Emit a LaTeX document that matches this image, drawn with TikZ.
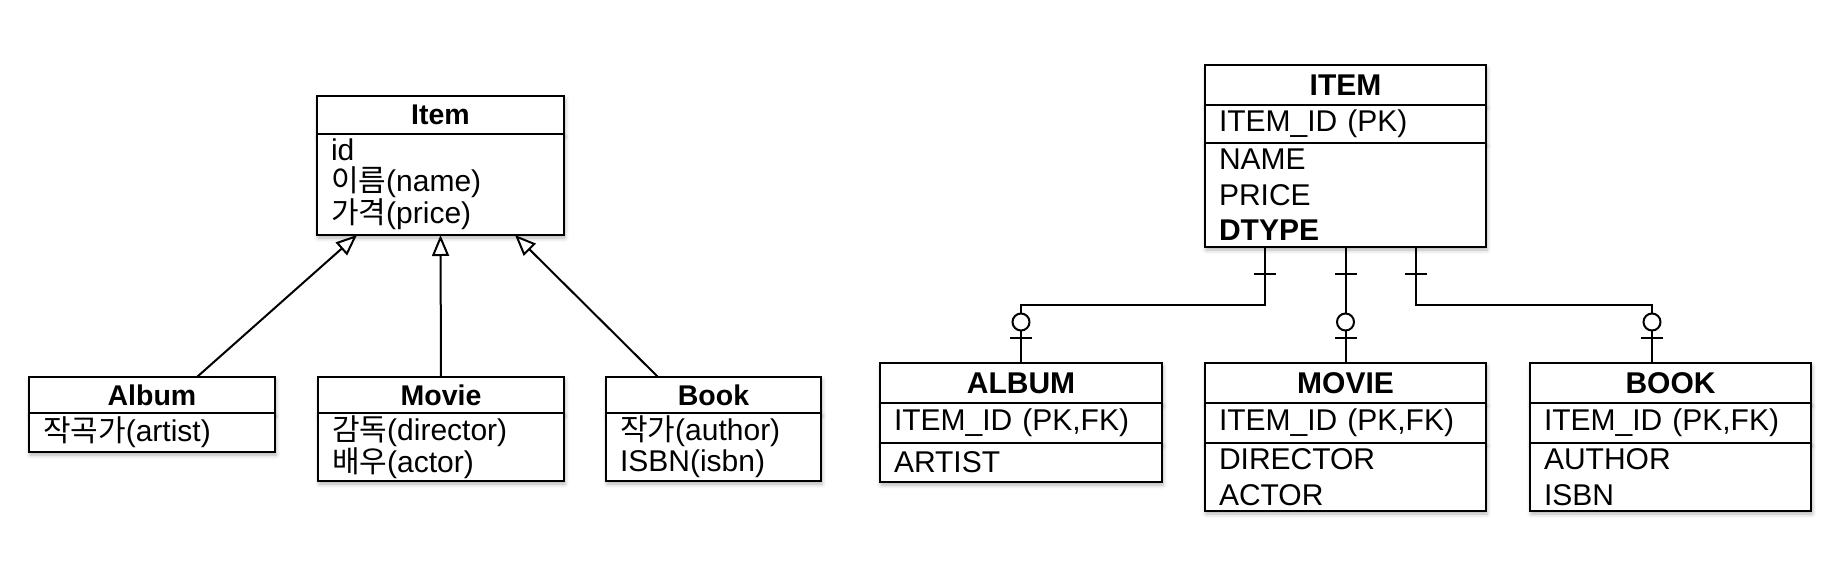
\documentclass[tikz,border=0pt]{standalone}
\usepackage{fontspec}
\setmainfont{Liberation Sans}
\newfontfamily\kr{Noto Sans CJK KR}
\usetikzlibrary{arrows.meta,shadows.blur,decorations.markings}
\tikzset{
  box/.style={draw, line width=2.4pt, fill=white, outer sep=0pt,
    inner xsep=14pt, inner ysep=0pt, anchor=north west,
    blur shadow={shadow xshift=1pt, shadow yshift=-3pt,
      shadow blur radius=4pt, shadow opacity=30}},
  hdr/.style={box, text width=#1, align=center, font=\bfseries\fontsize{28.5}{30}\selectfont},
  attr/.style={box, text width=#1, align=left, font=\fontsize{30}{31}\selectfont},
  thdr/.style={box, text width=#1, align=center, font=\bfseries\fontsize{30}{35.5}\selectfont},
  tcol/.style={box, text width=#1, align=left, font=\fontsize{30}{35.5}\selectfont},
  gen/.style={line width=2pt, -{Triangle[open, length=21pt, width=17pt, fill=white]}},
  rel/.style={line width=2pt,
    decoration={markings,
      mark=at position 27pt with {\draw (0,-11pt) -- (0,11pt);},
      mark=at position -25pt with {\draw (0,-11pt) -- (0,11pt);},
      mark=at position -41pt with {\draw[fill=white] (0,0) circle (8.5pt);}},
    postaction={decorate}}
}
\begin{document}
\begin{tikzpicture}[x=1pt,y=-1pt]
\useasboundingbox (0,0) rectangle (1848,576);
% class diagram
\node[hdr=219pt, minimum height=38pt] (item) at (317,96) {Item};
\node[attr=219pt, minimum height=101pt] (itemAttr) at (item.south west)
  {id\\{\kr 이름}(name)\\{\kr 가격}(price)};
\node[hdr=218pt, minimum height=36pt] (album) at (29,377) {Album};
\node[attr=218pt, minimum height=39pt] (albumAttr) at (album.south west)
  {{\kr 작곡가}(artist)};
\node[hdr=218pt, minimum height=36pt] (movie) at (318,377) {Movie};
\node[attr=218pt, minimum height=68pt] (movieAttr) at (movie.south west)
  {{\kr 감독}(director)\\{\kr 배우}(actor)};
\node[hdr=187pt, minimum height=36pt] (book) at (606,377) {Book};
\node[attr=187pt, minimum height=68pt] (bookAttr) at (book.south west)
  {{\kr 작가}(author)\\ISBN(isbn)};
\draw[gen] ([xshift=45pt]album.north) -- ([xshift=-83.5pt]itemAttr.south);
\draw[gen] (movie.north) -- (itemAttr.south);
\draw[gen] ([xshift=-55.5pt]book.north) -- ([xshift=74.5pt]itemAttr.south);
% tables
\node[thdr=253pt, minimum height=40pt] (tItem) at (1205,65) {ITEM};
\node[tcol=253pt, minimum height=38pt] (tItemPk) at (tItem.south west) {ITEM\_ID (PK)};
\node[tcol=253pt, minimum height=104pt] (tItemCol) at (tItemPk.south west)
  {NAME\\PRICE\\\textbf{DTYPE}};
\node[thdr=254pt, minimum height=40pt] (tAlbum) at (880,363) {ALBUM};
\node[tcol=254pt, minimum height=40pt] (tAlbumPk) at (tAlbum.south west) {ITEM\_ID (PK,FK)};
\node[tcol=254pt, minimum height=39pt] (tAlbumCol) at (tAlbumPk.south west) {ARTIST};
\node[thdr=253pt, minimum height=40pt] (tMovie) at (1205,363) {MOVIE};
\node[tcol=253pt, minimum height=40pt] (tMoviePk) at (tMovie.south west) {ITEM\_ID (PK,FK)};
\node[tcol=253pt, minimum height=68pt] (tMovieCol) at (tMoviePk.south west)
  {DIRECTOR\\ACTOR};
\node[thdr=253pt, minimum height=40pt] (tBook) at (1530,363) {BOOK};
\node[tcol=253pt, minimum height=40pt] (tBookPk) at (tBook.south west) {ITEM\_ID (PK,FK)};
\node[tcol=253pt, minimum height=68pt] (tBookCol) at (tBookPk.south west)
  {AUTHOR\\ISBN};
\draw[rel] ([xshift=-80.5pt]tItemCol.south) -- ++(0,58) -| (tAlbum.north);
\draw[rel] (tItemCol.south) -- (tMovie.north);
\draw[rel] ([xshift=70.5pt]tItemCol.south) -- ++(0,58) -| ([xshift=-18.5pt]tBook.north);
\end{tikzpicture}
\end{document}
